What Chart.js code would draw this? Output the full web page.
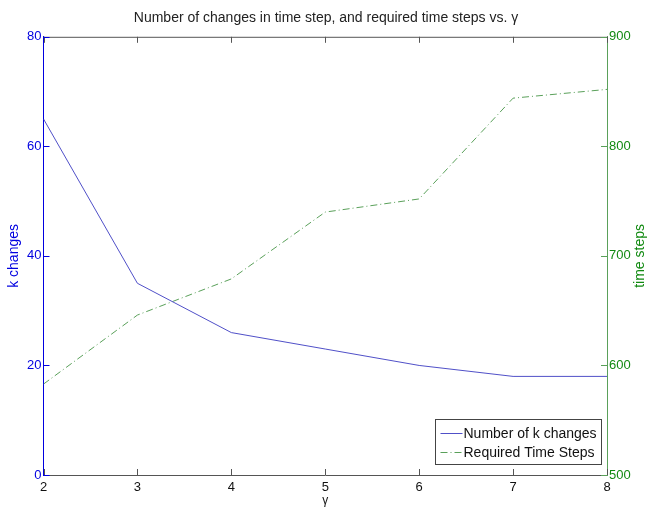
<!DOCTYPE html>
<html>
<head>
<meta charset="utf-8">
<script src="https://cdn.jsdelivr.net/npm/chart.js@4"></script>
<style>
  html, body { margin: 0; padding: 0; background: #fff; }
  #wrap { width: 652px; height: 508px; }
</style>
</head>
<body>
<div id="wrap"><canvas id="myChart" width="652" height="508"></canvas></div>
<script>
const gammaValues = [2, 3, 4, 5, 6, 7, 8]
const kChanges = [65, 35, 26, 23, 20, 18, 18]
const timeSteps = [583, 646, 679, 740, 752, 844, 852]
const leftTicks = [0, 20, 40, 60, 80]
const rightTicks = [500, 600, 700, 800, 900]

const BLUE = '#0000e0'
const BLUE_LINE = '#5050c8'
const GREEN = '#128a12'
const GREEN_LINE = '#5aa05a'
const FONT = 'Liberation Sans, Arial, sans-serif'

// inward ticks, top border, right title and a legend inside the plot like matlab
const matlabLook = {
    id: 'matlabLook',
    afterDraw(chart) {
        const c = chart.ctx
        const a = chart.chartArea
        const sx = chart.scales.x, sl = chart.scales.y, sr = chart.scales.y1
        c.save()
        c.lineWidth = 1
        c.strokeStyle = '#555'
        c.beginPath()
        c.moveTo(a.left, a.top + 0.5); c.lineTo(a.right, a.top + 0.5)
        gammaValues.forEach(v => {
            const px = Math.round(sx.getPixelForValue(v)) + 0.5
            c.moveTo(px, a.bottom); c.lineTo(px, a.bottom - 6)
            c.moveTo(px, a.top); c.lineTo(px, a.top + 6)
        })
        c.stroke()
        c.strokeStyle = BLUE
        c.beginPath()
        leftTicks.forEach(v => {
            const py = Math.round(sl.getPixelForValue(v)) + 0.5
            c.moveTo(a.left, py); c.lineTo(a.left + 6, py)
        })
        c.stroke()
        c.strokeStyle = GREEN_LINE
        c.beginPath()
        rightTicks.forEach(v => {
            const py = Math.round(sr.getPixelForValue(v)) + 0.5
            c.moveTo(a.right, py); c.lineTo(a.right - 6, py)
        })
        c.stroke()

        // right axis title, reading bottom to top
        c.save()
        c.translate(640, (a.top + a.bottom) / 2)
        c.rotate(-Math.PI / 2)
        c.fillStyle = GREEN
        c.font = '14px ' + FONT
        c.textAlign = 'center'
        c.textBaseline = 'middle'
        c.fillText('time steps', 0, 0)
        c.restore()

        // legend box
        const bx = 435.5, by = 419.5, bw = 166, bh = 45
        c.fillStyle = '#fff'
        c.fillRect(bx, by, bw, bh)
        c.strokeStyle = '#444'
        c.strokeRect(bx, by, bw, bh)
        c.font = '14px ' + FONT
        c.textBaseline = 'middle'
        chart.data.datasets.forEach((ds, i) => {
            const ly = by + 14 + i * 19
            c.strokeStyle = ds.borderColor
            c.setLineDash(ds.borderDash || [])
            c.beginPath()
            c.moveTo(bx + 5, ly); c.lineTo(bx + 27, ly)
            c.stroke()
            c.setLineDash([])
            c.fillStyle = '#111'
            c.fillText(ds.label, bx + 28, ly + 1)
        })
        c.restore()
    }
}

new Chart(document.getElementById('myChart'), {
    type: 'line',
    data: {
        datasets: [{
            label: 'Number of k changes',
            data: gammaValues.map((g, i) => ({ x: g, y: kChanges[i] })),
            borderColor: BLUE_LINE,
            borderWidth: 1,
            pointRadius: 0,
            tension: 0,
            yAxisID: 'y'
        }, {
            label: 'Required Time Steps',
            data: gammaValues.map((g, i) => ({ x: g, y: timeSteps[i] })),
            borderColor: GREEN_LINE,
            borderWidth: 1,
            borderDash: [7, 3, 1, 3],
            pointRadius: 0,
            tension: 0,
            yAxisID: 'y1'
        }]
    },
    options: {
        responsive: false,
        animation: false,
        plugins: {
            legend: { display: false },
            tooltip: { enabled: false },
            title: {
                display: true,
                text: 'Number of changes in time step, and required time steps vs. γ',
                color: '#222',
                font: { family: FONT, size: 14, weight: 'normal' },
                padding: { top: 10, bottom: 10 }
            }
        },
        scales: {
            x: {
                type: 'linear',
                min: 2, max: 8,
                afterBuildTicks: s => { s.ticks = gammaValues.map(v => ({ value: v })) },
                afterFit: s => { s.height = 33 },
                grid: { display: false, drawTicks: false },
                border: { color: '#555', width: 1 },
                ticks: { color: '#111', padding: 5, font: { family: FONT, size: 13 } },
                title: { display: true, text: 'γ', color: '#111', padding: 0, font: { family: FONT, size: 12 } }
            },
            y: {
                position: 'left',
                min: 0, max: 80,
                afterBuildTicks: s => { s.ticks = leftTicks.map(v => ({ value: v })) },
                afterFit: s => { s.width = 43.5 },
                grid: { display: false, drawTicks: false },
                border: { color: BLUE, width: 1 },
                ticks: { color: BLUE, padding: 2, font: { family: FONT, size: 13 } },
                title: { display: true, text: 'k changes', color: BLUE, padding: { top: 6, bottom: 0 }, font: { family: FONT, size: 14 } }
            },
            y1: {
                position: 'right',
                min: 500, max: 900,
                afterBuildTicks: s => { s.ticks = rightTicks.map(v => ({ value: v })) },
                afterFit: s => { s.width = 45 },
                grid: { display: false, drawTicks: false },
                border: { color: GREEN_LINE, width: 1 },
                ticks: { color: GREEN, padding: 2, font: { family: FONT, size: 13 } },
                title: { display: false }
            }
        }
    },
    plugins: [matlabLook]
})
</script>
</body>
</html>
